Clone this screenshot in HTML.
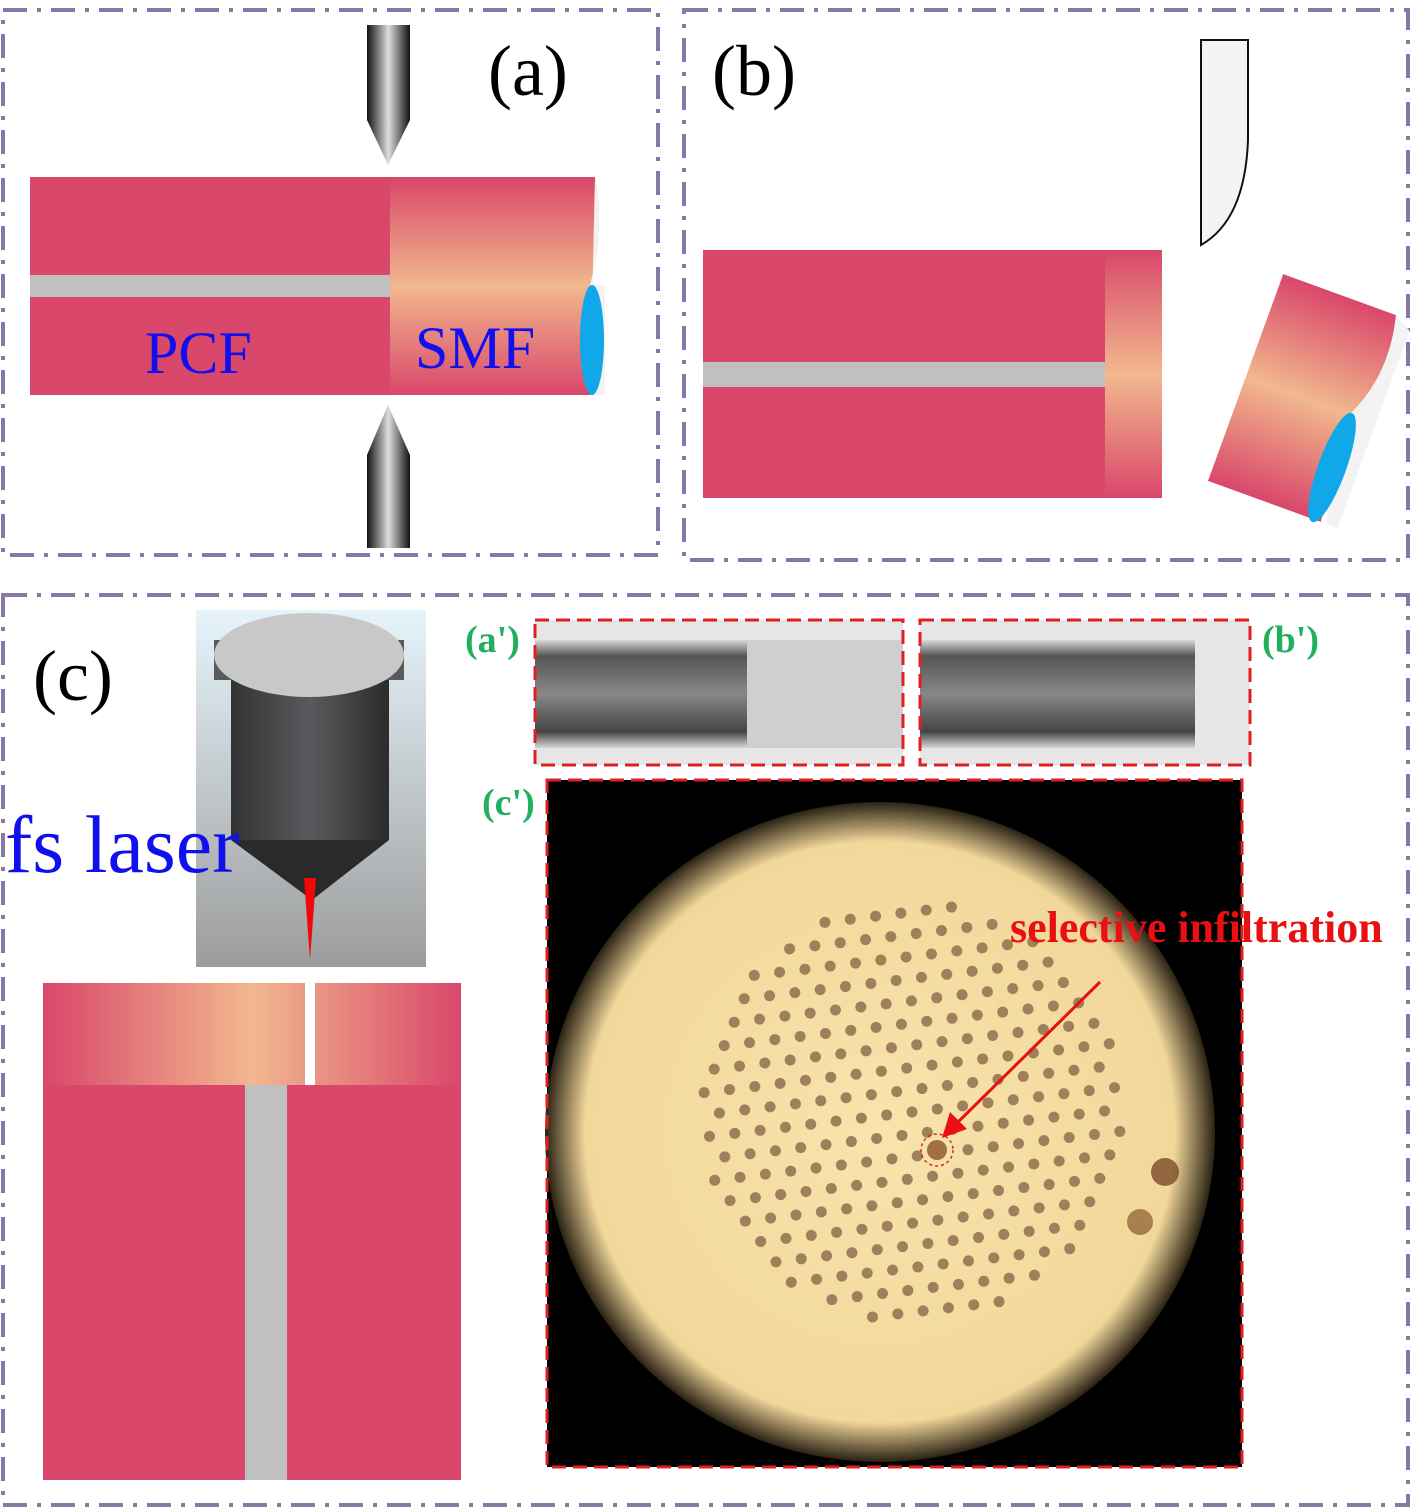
<!DOCTYPE html>
<html><head><meta charset="utf-8"><style>
body{margin:0;background:#fff;}
svg{display:block;font-family:"Liberation Serif",serif;}
</style></head><body>
<svg width="1420" height="1511" viewBox="0 0 1420 1511">
<defs>
<linearGradient id="vg" x1="0" y1="0" x2="0" y2="1"><stop offset="0" stop-color="#d9476a"/><stop offset="0.5" stop-color="#f1b88e"/><stop offset="1" stop-color="#d9476a"/></linearGradient>
<linearGradient id="hg" x1="0" y1="0" x2="1" y2="0"><stop offset="0" stop-color="#d9476a"/><stop offset="0.5" stop-color="#f1b88e"/><stop offset="1" stop-color="#d9476a"/></linearGradient>
<linearGradient id="ndl" x1="0" y1="0" x2="1" y2="0"><stop offset="0" stop-color="#111"/><stop offset="0.5" stop-color="#ddd"/><stop offset="1" stop-color="#111"/></linearGradient>
<linearGradient id="objbg" x1="0" y1="0" x2="0" y2="1"><stop offset="0" stop-color="#e6f4fb"/><stop offset="1" stop-color="#9c9c9c"/></linearGradient>
<linearGradient id="cyl" x1="0" y1="0" x2="1" y2="0"><stop offset="0" stop-color="#333"/><stop offset="0.5" stop-color="#5a5a5e"/><stop offset="1" stop-color="#2c2c2c"/></linearGradient>
<linearGradient id="micro" x1="0" y1="0" x2="0" y2="1"><stop offset="0" stop-color="#d8d8d8"/><stop offset="0.15" stop-color="#555"/><stop offset="0.5" stop-color="#888"/><stop offset="0.85" stop-color="#444"/><stop offset="1" stop-color="#d8d8d8"/></linearGradient>
<radialGradient id="disk" cx="0.5" cy="0.5" r="0.5"><stop offset="0" stop-color="#f8e4ac"/><stop offset="0.88" stop-color="#f2d79a"/><stop offset="1" stop-color="#2a2214"/></radialGradient>
</defs>
<g fill="none" stroke="#8878a8" stroke-width="4" stroke-dasharray="24,10,4,10">
<rect x="3" y="10" width="655" height="545"/>
<rect x="684" y="10" width="724" height="550"/>
<rect x="3" y="595" width="1405" height="910"/>
</g>
<g>
<rect x="30" y="177" width="360" height="218" fill="#d9476a"/>
<rect x="30" y="275" width="360" height="22" fill="#c0c0c0"/>
<path d="M390 177 H595 Q605 230 590 285 L590 395 H390 Z" fill="url(#vg)"/>
<path d="M595 177 Q605 230 590 285 L605 285 L605 395 L590 395" fill="#f2f2f2"/>
<ellipse cx="592" cy="340" rx="12" ry="55" fill="#10a8e8"/>
<path d="M367 25 H410 V120 L388 165 L367 120 Z" fill="url(#ndl)"/>
<path d="M367 548 H410 V455 L388 405 L367 455 Z" fill="url(#ndl)"/>
<text x="488" y="95" font-size="72">(a)</text>
<text x="145" y="373" font-size="60" fill="#1010ee">PCF</text>
<text x="415" y="368" font-size="60" fill="#1010ee">SMF</text>
</g>
<g>
<text x="712" y="95" font-size="72">(b)</text>
<rect x="703" y="250" width="402" height="248" fill="#d9476a"/>
<rect x="703" y="362" width="402" height="25" fill="#c0c0c0"/>
<rect x="1105" y="250" width="57" height="248" fill="url(#vg)"/>
<path d="M1201 40 H1248 V140 Q1245 220 1201 245 Z" fill="#f4f4f4" stroke="#111" stroke-width="2"/>
<g transform="translate(-8,-2) rotate(20 1310 400)">
<path d="M1250 290 H1370 Q1385 350 1360 400 L1370 510 H1250 Z" fill="url(#vg)"/>
<path d="M1370 290 Q1385 350 1360 400 L1375 510 H1388 V300 Z" fill="#f3f3f3"/>
<ellipse cx="1362" cy="455" rx="14" ry="58" fill="#10a8e8"/>
</g>
</g>
<g>
<text x="33" y="700" font-size="72">(c)</text>
<rect x="196" y="610" width="230" height="357" fill="url(#objbg)"/>
<rect x="231" y="670" width="158" height="170" fill="url(#cyl)"/>
<path d="M231 840 H389 L312 900 Z" fill="#2a2a2a"/>
<rect x="214" y="640" width="190" height="40" fill="#5a5a5a"/>
<ellipse cx="309" cy="655" rx="95" ry="42" fill="#c8c8c8"/>
<path d="M304 878 H316 L310 960 Z" fill="#f00808"/>
<text x="5" y="872" font-size="82" fill="#1010ee">fs laser</text>
<rect x="43" y="983" width="418" height="102" fill="url(#hg)"/>
<rect x="305" y="983" width="10" height="102" fill="#fff"/>
<rect x="43" y="1085" width="418" height="395" fill="#d9476a"/>
<rect x="245" y="1085" width="42" height="395" fill="#c0c0c0"/>
<rect x="535" y="620" width="368" height="145" fill="#e6e6e6"/>
<rect x="535" y="640" width="212" height="108" fill="url(#micro)"/>
<rect x="747" y="640" width="156" height="108" fill="#cfcfcf"/>
<rect x="920" y="620" width="330" height="145" fill="#e6e6e6"/>
<rect x="920" y="640" width="275" height="108" fill="url(#micro)"/>
<rect x="535" y="620" width="368" height="145" fill="none" stroke="#e02020" stroke-width="3" stroke-dasharray="14,7"/>
<rect x="920" y="620" width="330" height="145" fill="none" stroke="#e02020" stroke-width="3" stroke-dasharray="14,7"/>
<text x="465" y="652" font-size="38" font-weight="bold" fill="#22b060">(a')</text>
<text x="1262" y="652" font-size="38" font-weight="bold" fill="#22b060">(b')</text>
<text x="482" y="815" font-size="38" font-weight="bold" fill="#22b060">(c')</text>
<rect x="547" y="780" width="695" height="687" fill="#000"/>
<ellipse cx="880" cy="1132" rx="335" ry="330" fill="url(#disk)"/>
<g id="holes" fill="#a0805a"></g>
<circle cx="1165" cy="1172" r="14" fill="#7a4a28" opacity="0.8"/>
<circle cx="1140" cy="1222" r="13" fill="#8a5a30" opacity="0.7"/>
<circle cx="937" cy="1150" r="16" fill="none" stroke="#e02020" stroke-width="1.5" stroke-dasharray="3,3"/>
<line x1="1100" y1="982" x2="955" y2="1125" stroke="#e81010" stroke-width="3"/>
<path d="M942 1138 L950 1112 L967 1129 Z" fill="#e81010"/>
<rect x="547" y="780" width="695" height="687" fill="none" stroke="#e02020" stroke-width="3" stroke-dasharray="14,7"/>
<text x="1010" y="942" font-size="44" font-weight="bold" fill="#e81010">selective infiltration</text>
</g>
</svg>
<script>
var g=document.getElementById('holes');
var cx=912,cy=1112,p=25.5,a=-0.12;
for(var i=-14;i<=14;i++)for(var j=-14;j<=14;j++){
 var x=(i+j*0.5)*p,y=j*p*0.866;
 var r=Math.sqrt(x*x+y*y);
 if(r>210)continue;
 var X=cx+x*Math.cos(a)-y*Math.sin(a),Y=cy+x*Math.sin(a)+y*Math.cos(a);
 if(Math.abs(X-937)<8&&Math.abs(Y-1150)<8)continue;
 var c=document.createElementNS('http://www.w3.org/2000/svg','circle');
 c.setAttribute('cx',X);c.setAttribute('cy',Y);c.setAttribute('r',5.5);
 
 
 g.appendChild(c);
}
var core=document.createElementNS('http://www.w3.org/2000/svg','circle');
core.setAttribute('cx',937);core.setAttribute('cy',1150);core.setAttribute('r',10);core.setAttribute('fill','#a07040');


g.appendChild(core);
</script>
</body></html>
